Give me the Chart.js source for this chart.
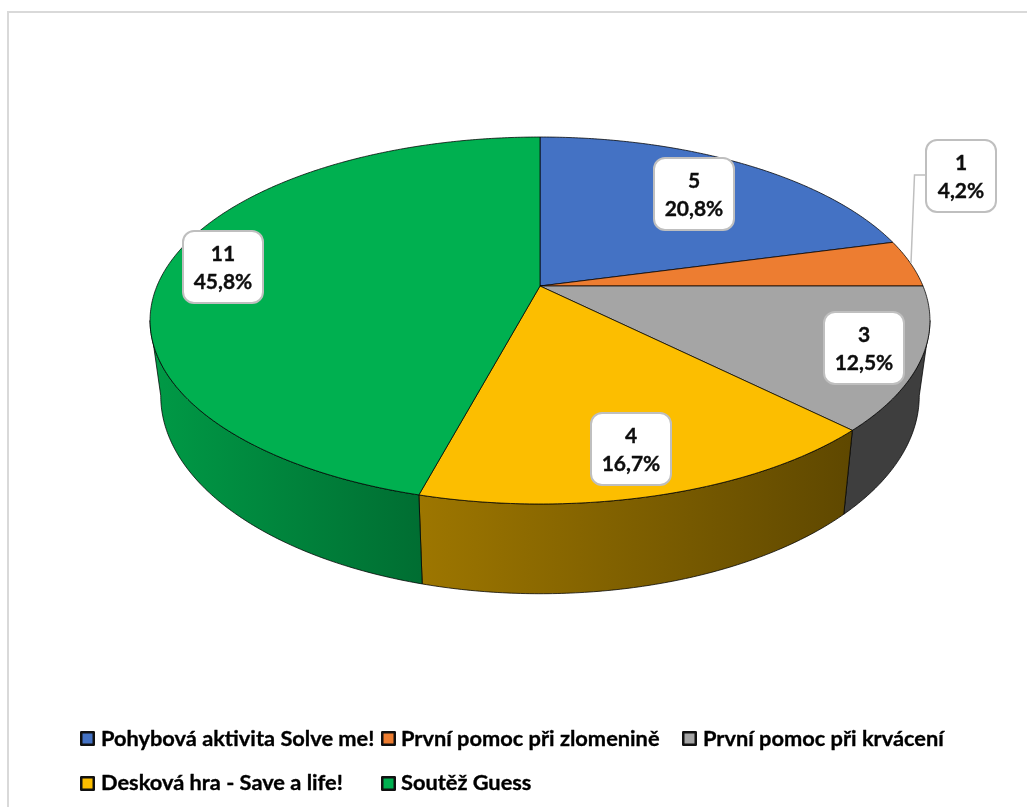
<!DOCTYPE html>
<html><head><meta charset="utf-8">
<style>html,body{margin:0;padding:0;background:#fff}canvas{display:block;filter:blur(0.4px)}</style>
<script src="https://cdn.jsdelivr.net/npm/chart.js@4"></script>
</head><body>
<canvas id="c" width="1027" height="807"></canvas>
<script>
const categories = ['Pohybová aktivita Solve me!','První pomoc při zlomenině','První pomoc při krvácení','Desková hra - Save a life!','Soutěž Guess'];
const counts = [5,1,3,4,11];
const sliceColors = ['#4472C4','#ED7D31','#A5A5A5','#FCBE00','#00B050'];

// perspective of the tilted disc
const K = 0.188, CX = 540;
const topPlane = {y:286, A:177, B:383};
const basePlane = {y:358.5, A:191, B:372.5};
const shadeStops = [[150,0.88],[420,0.625],[850,0.38],[930,0.38]];
const FONT = 'Lato, Carlito, sans-serif';
// annotation layout
const labelCentres = [[694,194],[961,176],[864,348],[631,449],[223,267]];
const legendSlots = [[80,731,101,746],[381,731,401,746],[682,731,703,746],[80,776,101,790],[381,776,401,790]];

function proj(t,p){const u=Math.sin(t),v=-Math.cos(t),w=1-K*v;return [CX+p.B*u/w,p.y+p.A*v/w];}
function shade(hex,f){const n=parseInt(hex.slice(1),16);
  return `rgb(${((n>>16&255)*f)|0},${((n>>8&255)*f)|0},${((n&255)*f)|0})`;}
function tracePoints(ctx,a,b,p,first){const n=Math.max(2,Math.ceil(Math.abs(b-a)/0.01));
  for(let i=0;i<=n;i++){const q=proj(a+(b-a)*i/n,p);(first&&i===0)?ctx.moveTo(q[0],q[1]):ctx.lineTo(q[0],q[1]);}}

class PerspectiveArc extends Chart.ArcElement{
  static id='perspectiveArc';
  draw(ctx){
    const a=this.startAngle+Math.PI/2,b=this.endAngle+Math.PI/2,color=this.options.backgroundColor;
    const fl=Math.acos(-K),fr=2*Math.PI-fl,s=Math.max(a,fl),e=Math.min(b,fr);
    ctx.save();
    ctx.lineJoin='round';
    ctx.strokeStyle='rgba(0,0,0,0.75)';ctx.lineWidth=1;
    if(e>s){
      const g=ctx.createLinearGradient(150,0,930,0);
      shadeStops.forEach(([x,f])=>g.addColorStop((x-150)/780,shade(color,f)));
      ctx.beginPath();tracePoints(ctx,s,e,topPlane,true);tracePoints(ctx,e,s,basePlane,false);ctx.closePath();
      ctx.fillStyle=g;ctx.fill();ctx.stroke();
    }
    ctx.beginPath();ctx.moveTo(CX,topPlane.y);tracePoints(ctx,a,b,topPlane,false);ctx.closePath();
    ctx.fillStyle=color;ctx.fill();ctx.stroke();
    ctx.restore();
  }
}
class PerspectivePie extends Chart.PieController{
  static id='perspectivePie';
  static defaults={dataElementType:'perspectiveArc'};
}
Chart.register(PerspectiveArc,PerspectivePie);

function roundBox(ctx,x,y,w,h,r){ctx.beginPath();ctx.roundRect(x,y,w,h,r);}
function heavyText(ctx,t,x,y,extra){ctx.lineWidth=extra;ctx.strokeStyle=ctx.fillStyle;ctx.strokeText(t,x,y);ctx.fillText(t,x,y);}

const annotations={
  id:'annotations',
  beforeDraw(chart){
    const ctx=chart.ctx;ctx.save();ctx.fillStyle='#fff';ctx.fillRect(0,0,chart.width,chart.height);
    ctx.strokeStyle='#d9d9d9';ctx.lineWidth=2;
    ctx.beginPath();ctx.moveTo(8,807);ctx.lineTo(8,12);ctx.lineTo(1027,12);ctx.stroke();ctx.restore();
  },
  afterDatasetsDraw(chart){
    const ctx=chart.ctx,data=chart.data.datasets[0].data,total=data.reduce((a,b)=>a+b,0);
    ctx.save();
    // leader line of the small slice
    ctx.strokeStyle='#bfbfbf';ctx.lineWidth=1.5;
    ctx.beginPath();ctx.moveTo(926,175);ctx.lineTo(914.5,175);ctx.lineTo(911,263);ctx.stroke();
    data.forEach((v,i)=>{
      const [x,y]=labelCentres[i],w=i===1?70:80,h=72;
      roundBox(ctx,x-w/2,y-h/2,w,h,11);
      ctx.fillStyle='#fff';ctx.fill();ctx.strokeStyle='#bfbfbf';ctx.lineWidth=2;ctx.stroke();
      ctx.fillStyle='#0d0d0d';ctx.font='bold 21px '+FONT;ctx.textAlign='center';ctx.textBaseline='alphabetic';
      heavyText(ctx,String(v),x,y-6,0.35);
      heavyText(ctx,(v/total*100).toFixed(1).replace('.',',')+'%',x,y+22,0.35);
    });
    chart.data.labels.forEach((t,i)=>{
      const [bx,by,tx,ty]=legendSlots[i];
      ctx.beginPath();ctx.rect(bx+1.25,by+1.25,12.5,12.5);
      ctx.fillStyle=sliceColors[i];ctx.fill();ctx.strokeStyle='#111';ctx.lineWidth=2.5;ctx.lineJoin='round';ctx.stroke();
      ctx.fillStyle='#000';ctx.font='bold 21.8px '+FONT;ctx.textAlign='left';ctx.textBaseline='alphabetic';
      heavyText(ctx,t,tx,ty,0.35);
    });
    ctx.restore();
  }
};

new Chart(document.getElementById('c'),{
  type:'perspectivePie',
  data:{labels:categories,datasets:[{data:counts,backgroundColor:sliceColors}]},
  options:{responsive:false,animation:false,events:[],
    plugins:{legend:{display:false},tooltip:{enabled:false}}},
  plugins:[annotations]
});
</script>
</body></html>
